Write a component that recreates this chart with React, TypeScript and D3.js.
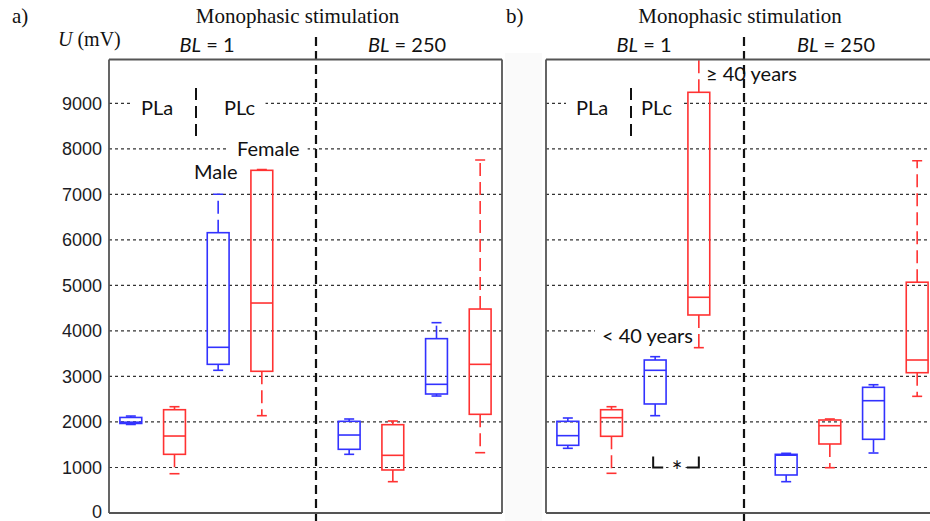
import React, { useLayoutEffect, useRef, useState } from 'react';
import * as d3 from 'd3';

// y axis ticks (mV)
const yTicks = [0, 1000, 2000, 3000, 4000, 5000, 6000, 7000, 8000, 9000];
const gridValues = [1000, 2000, 3000, 4000, 5000, 6000, 7000, 8000, 9000];

// slot of each box (slot 4 is the gap between BL = 1 and BL = 250)
const slots = [0, 1, 2, 3, 5, 6, 7, 8];
const series = ['Male', 'Female', 'Male', 'Female', 'Male', 'Female', 'Male', 'Female'];

// panel a) : PLa / PLc, male / female
const aLow = [1945, 863, 3135, 2138, 1289, 688, 2570, 1325];
const aQ1 = [1967, 1289, 3266, 3113, 1399, 945, 2614, 2168];
const aMedian = [1995, 1691, 3640, 4613, 1713, 1267, 2827, 3266];
const aQ3 = [2099, 2269, 6158, 7528, 2014, 1940, 3830, 4481];
const aHigh = [2130, 2335, 7001, 7545, 2065, 2021, 4181, 7755];

// panel b) : < 40 years / >= 40 years
const bLow = [1421, 872, 2138, 3632, 688, 995, 1318, 2563];
const bQ1 = [1487, 1685, 2395, 4350, 835, 1516, 1619, 3082];
const bMedian = [1699, 2094, 3135, 4739, 1270, 1918, 2467, 3361];
const bQ3 = [2014, 2269, 3361, 9242, 1289, 2043, 2761, 5070];
const bHigh = [2087, 2335, 3434, 10300, 1311, 2065, 2818, 7740];

const BLUE = '#3232ff';
const RED = '#ff3232';
const SERIF = "'Liberation Serif', 'DejaVu Serif', serif";
const SANS = "Lato, 'Open Sans', sans-serif";
const TICKFONT = "'Liberation Sans', Arial, sans-serif";
const LABEL_SIZE = 20;

const PLOT_TOP = 59.5;
const PLOT_BOTTOM = 513;
const PANEL_W = 393;

const y = d3.scaleLinear().domain([0, 10000]).range([PLOT_BOTTOM, 57.8]);

// white background behind a group of texts
function BgGroup({ pad = 8, children }: any) {
  const ref = useRef<SVGGElement>(null);
  const [bb, setBb] = useState<any>(null);
  useLayoutEffect(() => {
    if (ref.current) {
      const b = ref.current.getBBox();
      setBb({ x: b.x, y: b.y, w: b.width, h: b.height });
    }
  }, []);
  return (
    <g>
      {bb && <rect x={bb.x - pad} y={bb.y} width={bb.w + 2 * pad} height={bb.h} fill="white" />}
      <g ref={ref}>{children}</g>
    </g>
  );
}

function Panel({ id, left, divider, low, q1, median, q3, high, labels }: any) {
  const right = left + PANEL_W;
  const x = d3.scaleLinear().domain([0, 9]).range([left, right]);
  const boxW = x(0.5) - x(0);
  const capW = 10;
  const data = slots.map((s, i) => ({
    cx: x(s + 0.5),
    color: series[i] === 'Male' ? BLUE : RED,
    low: low[i], q1: q1[i], med: median[i], q3: q3[i], high: high[i],
  }));

  return (
    <g>
      <defs>
        <clipPath id={`clip-${id}`}>
          <rect x={left} y={PLOT_TOP} width={PANEL_W} height={PLOT_BOTTOM - PLOT_TOP} />
        </clipPath>
      </defs>
      {/* grid */}
      {gridValues.map((v) => (
        <line key={v} x1={left} x2={right} y1={y(v)} y2={y(v)}
          stroke="#333" strokeWidth={1.2} strokeDasharray="3,3" />
      ))}
      {/* tick labels */}
      {id === 'a' && yTicks.map((v) => (
        <text key={v} x={left - 7} y={v === 0 ? y(v) - 1 : y(v)} dy="0.36em" textAnchor="end"
          fontFamily={TICKFONT} fontSize={18} fill="#1c1c24">{v}</text>
      ))}
      {labels}
      {/* BL divider */}
      <line x1={divider} x2={divider} y1={37} y2={521} stroke="#111" strokeWidth={2.2} strokeDasharray="9,5" />
      {/* boxes */}
      <g clipPath={`url(#clip-${id})`} fill="none" strokeWidth={1.6}>
        {data.map((d, i) => (
          <g key={i} stroke={d.color}>
            <line x1={d.cx} x2={d.cx} y1={y(d.q3)} y2={y(d.high)} strokeDasharray="13,6" />
            <line x1={d.cx} x2={d.cx} y1={y(d.q1)} y2={y(d.low)} strokeDasharray="13,6" />
            <line x1={d.cx - capW / 2} x2={d.cx + capW / 2} y1={y(d.high)} y2={y(d.high)} />
            <line x1={d.cx - capW / 2} x2={d.cx + capW / 2} y1={y(d.low)} y2={y(d.low)} />
            <rect x={d.cx - boxW / 2} y={y(d.q3)} width={boxW} height={y(d.q1) - y(d.q3)} />
            <line x1={d.cx - boxW / 2} x2={d.cx + boxW / 2} y1={y(d.med)} y2={y(d.med)} />
          </g>
        ))}
      </g>
      {/* frame */}
      <g stroke="#555" strokeWidth={1.8} fill="none">
        <line x1={left} x2={right} y1={PLOT_TOP} y2={PLOT_TOP} />
        <line x1={left} x2={left} y1={PLOT_TOP} y2={PLOT_BOTTOM} />
        <line x1={right} x2={right} y1={PLOT_TOP} y2={PLOT_BOTTOM} />
        <line x1={left} x2={right} y1={PLOT_BOTTOM} y2={PLOT_BOTTOM} />
      </g>
    </g>
  );
}

function BL({ x, value }: any) {
  return (
    <text x={x} y={52} textAnchor="middle" fontFamily={SANS} fontSize={LABEL_SIZE} fill="#111">
      <tspan fontStyle="italic">BL</tspan> = {value}
    </text>
  );
}

function PlLabels({ pla, sep, plc }: any) {
  return (
    <g>
      <BgGroup pad={10}>
        <text x={pla} y={115} fontFamily={SANS} fontSize={LABEL_SIZE} fill="#111">PLa</text>
        <text x={plc} y={115} fontFamily={SANS} fontSize={LABEL_SIZE} fill="#111">PLc</text>
      </BgGroup>
      <line x1={sep} x2={sep} y1={88} y2={140} stroke="#111" strokeWidth={2} strokeDasharray="12,6" />
    </g>
  );
}

export default function App() {
  const aLeft = 109;
  const bLeft = 546;
  const bx = d3.scaleLinear().domain([0, 9]).range([bLeft, bLeft + PANEL_W]);
  const starY = y(1000);
  const starTop = y(1240);
  const sL = bx(2.5) - 2;
  const sR = bx(3.5);

  const aLabels = (
    <g>
      <PlLabels pla={141} sep={196} plc={224} />
      <BgGroup pad={8}>
        <text x={237} y={156} fontFamily={SANS} fontSize={LABEL_SIZE} fill="#111">Female</text>
      </BgGroup>
      <text x={194} y={179} fontFamily={SANS} fontSize={LABEL_SIZE} fill="#111">Male</text>
    </g>
  );

  const bLabels = (
    <g>
      <PlLabels pla={576} sep={631} plc={641} />
      <text x={706} y={81} fontFamily={SANS} fontSize={LABEL_SIZE} fill="#111">≥ 40 years</text>
      <BgGroup pad={7}>
        <text x={602} y={343} fontFamily={SANS} fontSize={LABEL_SIZE} fill="#111">&lt; 40 years</text>
      </BgGroup>
      <g stroke="#111" strokeWidth={2} fill="none">
        <polyline points={`${sL},${starTop} ${sL},${starY} ${sL + 10},${starY}`} />
        <polyline points={`${sR - 12},${starY} ${sR},${starY} ${sR},${starTop}`} />
      </g>
      <BgGroup pad={3}>
        <text x={(sL + sR) / 2 + 1} y={starY + 14} textAnchor="middle" fontFamily={SANS} fontSize={26} fill="#111">*</text>
      </BgGroup>
    </g>
  );

  return (
    <svg width={930} height={521} style={{ display: 'block', position: 'absolute', left: 0, top: 0 }}
      viewBox="0 0 930 521">
      <rect width={930} height={521} fill="white" />
      <rect x={505} y={53} width={37} height={468} fill="#fafafa" />

      <text x={12} y={23} fontFamily={SERIF} fontSize={21} fill="#111">a)</text>
      <text x={506} y={23} fontFamily={SERIF} fontSize={21} fill="#111">b)</text>
      <text x={297.5} y={23} textAnchor="middle" fontFamily={SERIF} fontSize={21} fill="#111">Monophasic stimulation</text>
      <text x={740} y={23} textAnchor="middle" fontFamily={SERIF} fontSize={21} fill="#111">Monophasic stimulation</text>
      <text x={58} y={46} fontFamily={SERIF} fontSize={20} fill="#111">
        <tspan fontStyle="italic">U</tspan> (mV)
      </text>

      <BL x={207} value="1" />
      <BL x={407} value="250" />
      <BL x={644} value="1" />
      <BL x={836} value="250" />

      <Panel id="a" left={aLeft} divider={316} low={aLow} q1={aQ1} median={aMedian} q3={aQ3} high={aHigh} labels={aLabels} />
      <Panel id="b" left={bLeft} divider={744} low={bLow} q1={bQ1} median={bMedian} q3={bQ3} high={bHigh} labels={bLabels} />
    </svg>
  );
}
